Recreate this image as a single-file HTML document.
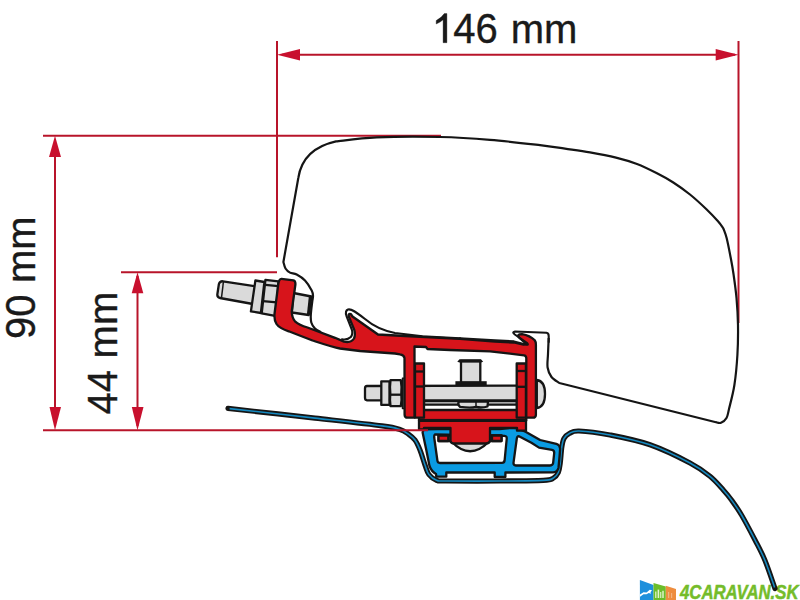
<!DOCTYPE html>
<html><head><meta charset="utf-8"><style>
html,body{margin:0;padding:0;background:#fff;width:800px;height:600px;overflow:hidden}
svg{display:block}
text{font-family:"Liberation Sans",sans-serif}
</style></head><body>
<svg width="800" height="600" viewBox="0 0 800 600">
<g stroke="#b8142a" stroke-width="2" fill="none">
<line x1="277" y1="41" x2="277" y2="257.2"/>
<line x1="738.5" y1="41" x2="738.5" y2="323"/>
<line x1="282" y1="54.8" x2="735" y2="54.8"/>
<line x1="43" y1="135.8" x2="441" y2="135.8"/>
<line x1="55" y1="140" x2="55" y2="426"/>
<line x1="121" y1="272.2" x2="277" y2="272.2"/>
<line x1="137.5" y1="276" x2="137.5" y2="426"/>
</g>
<g fill="#c8102e">
<polygon points="277,54.8 300,49 300,60.5"/>
<polygon points="738.5,54.8 715.7,49 715.7,60.5"/>
<polygon points="55,135.8 49,157 61,157"/>
<polygon points="55,430.3 49.5,407 61,407"/>
<polygon points="137.5,272.2 131.7,293.3 143.3,293.3"/>
<polygon points="137.5,430.3 131.8,407 143.5,407"/>
</g>
<g fill="#1a1a1a" font-size="40" stroke="#1a1a1a" stroke-width="0.35">
<path d="M443.1,42.7 L446.9,42.7 L446.9,13.6 L444.3,13.6 Q441.5,17.8 436.2,20.6 L436.2,24 Q440.5,22.2 443.1,19.8 Z"/>
<text transform="translate(0,42.5) scale(1,1.05)" x="453.2" y="0">46</text>
<text x="510.8" y="42.5">mm</text>
<g transform="translate(35,338.6) rotate(-90)"><text transform="scale(1,1.05)" x="-0.5" y="0">90</text><text x="55.6" y="0">mm</text></g>
<g transform="translate(117,414) rotate(-90)"><text transform="scale(1,1.05)" x="-0.5" y="0">44</text><text x="55.6" y="0">mm</text></g>
</g>
<!-- logo -->
<g>
<polygon points="639.9,579.9 653.5,585 653.5,600 639.9,600" fill="#1e90dc"/>
<polygon points="653.5,583 665.8,586.4 665.8,600 653.5,600" fill="#6cbd2a"/>
<polygon points="665.8,585.8 676,589 676,600 665.8,600" fill="#ee8d3e"/>
<path d="M640,594.6 L643.5,592.3 L646.5,592.6 L649.8,589.8 L652,590.2 L650.5,592.2 L651,593.8 L648.8,592.9 L646.5,594.3 L643.5,594.2 L640,596.8 Z" fill="#fff"/>
<g fill="#e6f5d0"><rect x="655.2" y="591.5" width="1.2" height="6.5"/><rect x="657.6" y="589.6" width="1.6" height="8.4"/><rect x="660.2" y="592" width="1.1" height="6"/><rect x="662.3" y="590.8" width="1.4" height="7.2"/></g>
<g fill="#f6c49a" opacity="0.7"><rect x="668" y="592" width="1.2" height="6"/><rect x="671" y="593" width="1.2" height="5"/></g>
<text transform="translate(680,598.7) scale(0.86,1)" x="0" y="0" font-family="Liberation Sans" font-weight="bold" font-style="italic" font-size="19.5" fill="#74bc2a" stroke="#74bc2a" stroke-width="0.5">4CARAVAN.SK</text>
</g>
<path d="M321.00,332.00 C320.00,331.43 316.62,330.18 315.00,328.60 C313.38,327.02 312.00,324.77 311.30,322.50 C310.60,320.23 310.65,318.42 310.80,315.00 C310.95,311.58 311.83,305.17 312.20,302.00 C312.57,298.83 313.08,297.92 313.00,296.00 C312.92,294.08 313.03,293.08 311.70,290.50 C310.37,287.92 307.50,283.17 305.00,280.50 C302.50,277.83 299.20,275.82 296.70,274.50 C294.20,273.18 291.87,273.60 290.00,272.60 C288.13,271.60 286.60,270.27 285.50,268.50 C284.40,266.73 283.75,263.08 283.40,262.00 L298.3,178 C301,160 313,146.5 336,141.4 C342.78,140.73 359.37,138.13 376.70,137.40 C394.03,136.67 421.12,136.60 440.00,137.00 C458.88,137.40 473.33,138.43 490.00,139.80 C506.67,141.17 527.50,143.72 540.00,145.20 C552.50,146.68 556.67,147.50 565.00,148.70 C573.33,149.90 581.50,150.92 590.00,152.40 C598.50,153.88 608.17,155.67 616.00,157.60 C623.83,159.53 630.17,161.38 637.00,164.00 C643.83,166.62 650.95,170.22 657.00,173.30 C663.05,176.38 667.80,178.97 673.30,182.50 C678.80,186.03 684.43,190.00 690.00,194.50 C695.57,199.00 702.03,205.03 706.70,209.50 C711.37,213.97 715.23,218.17 718.00,221.30 C720.77,224.43 722.42,227.13 723.30,228.30 C723.87,229.97 725.45,233.30 726.70,238.30 C727.95,243.30 729.67,252.35 730.80,258.30 C731.93,264.25 732.55,267.38 733.50,274.00 C734.45,280.62 735.75,289.50 736.50,298.00 C737.25,306.50 737.85,315.50 738.00,325.00 C738.15,334.50 738.00,345.00 737.40,355.00 C736.80,365.00 735.80,376.00 734.40,385.00 C733.00,394.00 730.32,403.50 729.00,409.00 C727.68,414.50 727.83,415.70 726.50,418.00 C725.17,420.30 722.75,422.10 721.00,422.80 C719.25,423.50 716.83,422.30 716.00,422.20 L559.3,383 C558.00,382.00 553.45,379.58 551.50,377.00 C549.55,374.42 548.18,371.33 547.60,367.50 C547.02,363.67 547.82,358.92 548.00,354.00 C548.18,349.08 548.58,340.67 548.70,338.00" fill="#fff" stroke="#151515" stroke-width="2.2" stroke-linejoin="round"/>
<path d="M228.00,408.40 C242.50,410.02 289.33,415.18 315.00,418.10 C340.67,421.02 367.83,424.00 382.00,425.90 C396.17,427.80 395.58,428.12 400.00,429.50 C404.42,430.88 406.00,432.45 408.50,434.20 C411.00,435.95 413.08,437.37 415.00,440.00 C416.92,442.63 418.33,445.83 420.00,450.00 C421.67,454.17 423.52,460.92 425.00,465.00 C426.48,469.08 426.98,471.95 428.90,474.50 C430.82,477.05 433.65,479.22 436.50,480.30 C439.35,481.38 435.42,480.88 446.00,481.00 C456.58,481.12 483.78,481.10 500.00,481.00 C516.22,480.90 534.38,480.90 543.30,480.40 C552.22,479.90 551.00,479.32 553.50,478.00 C556.00,476.68 557.18,474.95 558.30,472.50 C559.42,470.05 559.62,467.53 560.20,463.30 C560.78,459.07 561.17,451.25 561.80,447.10 C562.43,442.95 562.75,440.67 564.00,438.40 C565.25,436.13 566.80,434.73 569.30,433.50 C571.80,432.27 572.22,430.75 579.00,431.00 C585.78,431.25 598.17,432.70 610.00,435.00 C621.83,437.30 636.67,440.13 650.00,444.80 C663.33,449.47 680.00,457.75 690.00,463.00 C700.00,468.25 704.45,471.80 710.00,476.30 C715.55,480.80 719.72,486.05 723.30,490.00 C726.88,493.95 728.47,495.83 731.50,500.00 C734.53,504.17 737.58,508.33 741.50,515.00 C745.42,521.67 751.12,532.50 755.00,540.00 C758.88,547.50 761.47,551.92 764.80,560.00 C768.13,568.08 773.30,583.75 775.00,588.50" fill="none" stroke="#151515" stroke-width="5.2" stroke-linecap="round" stroke-linejoin="round"/>
<path d="M229.60,408.60 C243.83,410.18 289.60,415.22 315.00,418.10 C340.40,420.98 367.83,424.00 382.00,425.90 C396.17,427.80 395.58,428.12 400.00,429.50 C404.42,430.88 406.00,432.45 408.50,434.20 C411.00,435.95 413.08,437.37 415.00,440.00 C416.92,442.63 418.33,445.83 420.00,450.00 C421.67,454.17 423.52,460.92 425.00,465.00 C426.48,469.08 426.98,471.95 428.90,474.50 C430.82,477.05 433.65,479.22 436.50,480.30 C439.35,481.38 435.42,480.88 446.00,481.00 C456.58,481.12 483.78,481.10 500.00,481.00 C516.22,480.90 534.38,480.90 543.30,480.40 C552.22,479.90 551.00,479.32 553.50,478.00 C556.00,476.68 557.18,474.95 558.30,472.50 C559.42,470.05 559.62,467.53 560.20,463.30 C560.78,459.07 561.17,451.25 561.80,447.10 C562.43,442.95 562.75,440.67 564.00,438.40 C565.25,436.13 566.80,434.73 569.30,433.50 C571.80,432.27 572.22,430.75 579.00,431.00 C585.78,431.25 598.17,432.70 610.00,435.00 C621.83,437.30 636.67,440.13 650.00,444.80 C663.33,449.47 680.00,457.75 690.00,463.00 C700.00,468.25 704.45,471.80 710.00,476.30 C715.55,480.80 719.72,486.05 723.30,490.00 C726.88,493.95 728.47,495.83 731.50,500.00 C734.53,504.17 737.58,508.33 741.50,515.00 C745.42,521.67 751.12,532.50 755.00,540.00 C758.88,547.50 761.53,552.10 764.80,560.00 C768.07,567.90 772.97,582.83 774.60,587.40" fill="none" stroke="#1589c0" stroke-width="1.6" stroke-linecap="butt"/>
<g stroke="#151515" stroke-width="2.3" stroke-linejoin="round">
<!-- blue profile -->
<path fill="#0a9be2" fill-rule="evenodd" d="M422.6,432.5 Q422.8,429.4 426,429.3 L450,428.8 L500,429.2 L510.8,427.6 L517.3,428.1 L526,431.9 L540.1,440 L556.3,443.8 Q560.3,445.5 560.1,449 L559.6,455.8 L558.5,467.7 Q557.5,472 553,472.4 L505.4,472.5 L505.4,477 L494.7,477 L494.7,472.5 L446.3,472.5 L446.3,476.7 L436.3,476.7 L436,474 Q431.5,471.5 429.5,466 L426.3,450 Z
M435.5,434.5 L504.5,435.8 Q507,436 506.7,439 L504.6,460.5 Q504.3,462.8 502,462.8 L440,463 Q437.6,463 437.4,460.5 L434.2,437.5 Q434,434.5 435.5,434.5 Z
M519,436.3 L531.4,442.8 L539,447.6 L552,449.8 Q554.4,450.3 554.2,453 L553.1,463.3 Q552.6,465.5 549.8,465.5 L515.8,465.5 Q513.3,465.3 513.5,462.8 L516.8,438.5 Q517.3,435.8 519,436.3 Z"/>
<!-- slider -->
<path fill="#dadada" d="M451.5,441.5 Q470,461 489,441.5 Z"/>
<rect x="438.5" y="435.5" width="12" height="5.5" fill="#dadada"/>
<rect x="489.5" y="435.5" width="12" height="5.5" fill="#dadada"/>
<rect x="438.5" y="435.5" width="9.8" height="5.5" fill="#d7141b"/>
<rect x="492" y="435.5" width="9.5" height="5.5" fill="#d7141b"/>
<path fill="#d7141b" d="M419,420.5 L526,420.5 L526,430.7 L517,430.7 L517,428 L490,428 L490,441 Q489,443.5 486,443.5 L454,443.5 Q451,443.5 450.5,441 L450.5,428 L424,428 L424,429.5 L419,429.5 Z"/>
<!-- clamp bar -->
<rect x="419" y="410" width="107.3" height="10.4" fill="#d7141b"/>
<!-- horizontal bolt -->
<rect x="424" y="401.2" width="93" height="3.4" fill="#dadada"/>
<path fill="#dadada" d="M459,401.6 L488,401.6 L487.5,406.5 Q482,408.2 476,407 Q470,408.2 460,406.8 Q457,404.2 459,401.6 Z"/><line x1="452.7" y1="396.7" x2="452.7" y2="401.6" stroke-width="1.4"/><line x1="476" y1="401.5" x2="476" y2="406.8" stroke-width="1.5"/>
<path fill="#dadada" d="M536.8,380 Q545,381 545,394 Q545,407 536.8,408 Z"/>
<path fill="#dadada" d="M367,386 L536,385.6 L536,400.5 L367,400.3 Q365,400.2 365,397.8 L365,388.5 Q365,386 367,386 Z"/>
<rect x="381.3" y="381.3" width="8.2" height="23.6" fill="#dadada"/>
<path fill="#dadada" d="M390.5,380.1 L400.8,380.1 Q402,387 401.3,393.2 Q402,400 400.8,406.2 L390.5,406.2 Q389.6,400 390.3,393.2 Q389.6,387 390.5,380.1 Z"/>
<line x1="390" y1="394.7" x2="401.5" y2="394.7"/>
<rect x="402.4" y="378.2" width="1.6" height="30.4" fill="#dadada" stroke-width="1.3"/>
<!-- small vertical bolt head -->
<rect x="461" y="361" width="19.3" height="22" fill="#dadada"/>
<path stroke="none" fill="#151515" d="M455.4,381.2 L486.7,381.2 L486.7,385.5 L455.4,385.5 Z"/>
<path stroke="none" fill="#151515" d="M457.3,361.8 L459.5,359.2 L481,359.2 L483.2,361.8 L481,362.6 L459.5,362.6 Z"/>
<!-- inner blocks -->
<rect x="415" y="363.5" width="9" height="54.2" fill="#d7141b"/>
<line x1="415" y1="371.5" x2="424" y2="371.5"/>
<line x1="415" y1="386.5" x2="424" y2="386.5"/>
<rect x="516.7" y="363.5" width="9.2" height="54.2" fill="#d7141b"/>
<line x1="516.7" y1="371" x2="526" y2="371"/>
<line x1="516.7" y1="386.8" x2="526" y2="386.8"/>
<!-- left bolt -->
<g transform="translate(0.4,1)">
<path fill="#dadada" d="M222.5,280.3 L256,285.5 L252.5,303 L219.5,297 Q216.5,296 217,293 L218.5,283 Q219.5,280 222.5,280.3 Z"/>
<path fill="#dadada" d="M293,292 L311,295.5 L308.3,314 L291.5,311.5 Z"/>
<path fill="#dadada" d="M255,279.5 L264,281 L260.5,312 L250.5,310.3 Z"/>
<path fill="#dadada" d="M265,278.8 L278,280.3 L276,315.2 L261.3,312.3 Z"/>
<line x1="262.5" y1="300.2" x2="276.5" y2="301.4"/>
<line x1="265" y1="283.8" x2="278" y2="285.2"/>
<line x1="310" y1="295" x2="308" y2="313.5" stroke-width="3"/>
<line x1="223" y1="281" x2="221" y2="297.3" stroke-width="1.5"/>
</g>
<!-- bracket -->
<path fill="#d7141b" d="M281.5,278.8 L293.5,280.3 Q295.6,280.8 295.4,284.5 L291.7,311.3 Q292,318 295,321.3 Q299,325 307.5,327.5 L335,337.8 L344,341.6 Q351,343.2 354,338.5 Q355.6,334.5 354.3,330 L349,317 Q347.8,313.3 350.8,314 L352.5,316.5 L378,334.5 L405,336 L460,338.8 L495,341.7 L513.75,342.5 L523.5,344.6 L526.3,344 L519.5,337.8 Q516.8,335.2 519.5,334.4 L522,334.1 Q530,335.5 534.75,340.25 Q536,342 535.9,345 L535.9,414.7 Q535.9,417.7 532.9,417.7 L526.3,417.7 L526.3,358 Q526,355.5 524,355.3 L490,351.3 L450,350 L427.5,349 L426,347 L414.5,346.5 L414.5,417.7 L407.6,417.7 Q404.6,417.7 404.6,414.7 L404.5,358 Q404,354.8 400,354.3 L395,353.5 L360,351 L340,348.5 C333,347.3 325,344.6 312.5,340.5 L288.7,331.3 Q279,328 276.5,324 Q274,320 274.5,314 L278.2,284.7 Q279,278.6 281.5,278.8 Z"/>
</g>
<!-- cover outline over bracket -->
<g fill="none" stroke="#151515" stroke-width="2.1" stroke-linejoin="round" stroke-linecap="round">
<path d="M342,339.2 Q347.5,340.2 350.8,337 Q353.2,334 351.8,329.5 L346.5,316 Q344.8,310.8 348,309.5 C351,308.5 356,312 365,319 C372,325 380,330 395,333 L422.5,336.3 L460,338.4"/>
<path d="M460,338.4 L495,340.3 L514,341.4 L526.5,344.8 Q528.8,345 527.2,343.2 L514.8,334.5 Q511.5,332 515,331.5 L546.5,332.7 Q548.7,333 548.7,336 L548.7,342"/>
</g>
<!-- roof dark line between clamp and slider -->
<rect x="419" y="418.9" width="107" height="3" fill="#151515"/>

<line x1="43" y1="430.3" x2="428" y2="430.3" stroke="#b8142a" stroke-width="2"/>
</svg>
</body></html>
